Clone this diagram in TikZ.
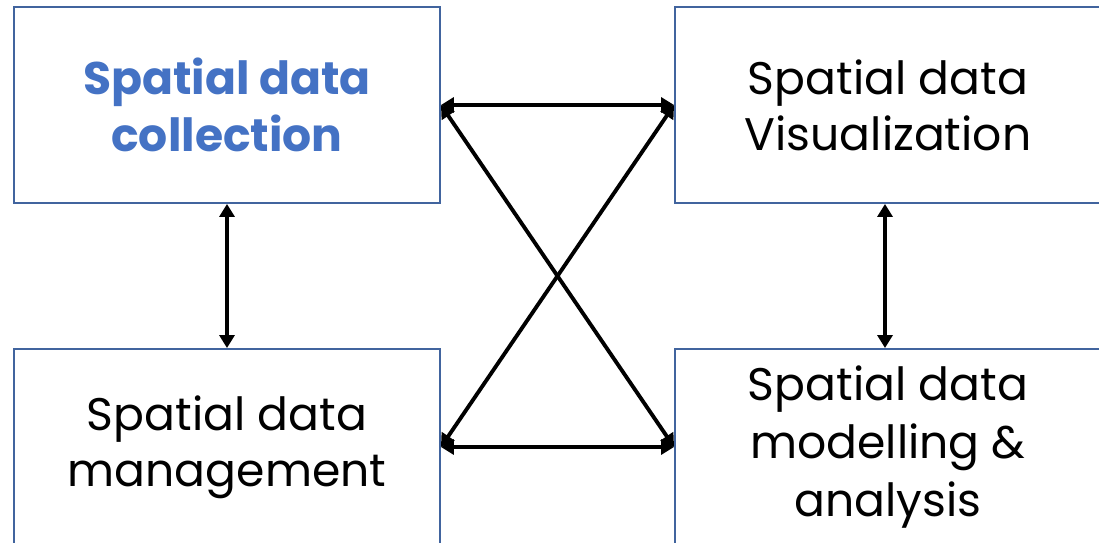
\documentclass[tikz,border=0pt]{standalone}
\usepackage{fontspec}
\setmainfont{Poppins}
\usetikzlibrary{arrows.meta}
\definecolor{boxline}{HTML}{41649E}
\definecolor{titleblue}{HTML}{4472C4}
\tikzset{
  box/.style={draw=boxline, line width=1.1pt, rectangle, minimum width=8.52cm, minimum height=3.92cm, inner sep=0pt, align=center, font=\fontsize{26}{32}\selectfont, text=black},
  link/.style={line width=2.2pt, {Triangle[length=0.26cm,width=0.3cm]}-{Triangle[length=0.26cm,width=0.3cm]}}
}
\begin{document}
\begin{tikzpicture}[x=0.02cm,y=-0.02cm]
\useasboundingbox (0,0) rectangle (1099,543);
\clip (0,0) rectangle (1099,543);
\node[box, text=titleblue, font=\fontsize{26}{32}\selectfont\bfseries] (tl) at (227,105) {Spatial data\\collection};
\node[box] (tr) at (888,105) {Spatial data\\Visualization};
\node[box] (bl) at (227,447) {Spatial data\\management};
\node[box, font=\fontsize{26}{33}\selectfont] (br) at (888,447) {Spatial data\\modelling \&\\analysis};
\draw[link] (tl.east) -- (tr.west);
\draw[link] (bl.east) -- (br.west);
\draw[link] (tl.east) -- (br.west);
\draw[link] (bl.east) -- (tr.west);
\draw[link] (tl.south) -- (bl.north);
\draw[link] ([xshift=-0.06cm]tr.south) -- ([xshift=-0.06cm]br.north);
\end{tikzpicture}
\end{document}
